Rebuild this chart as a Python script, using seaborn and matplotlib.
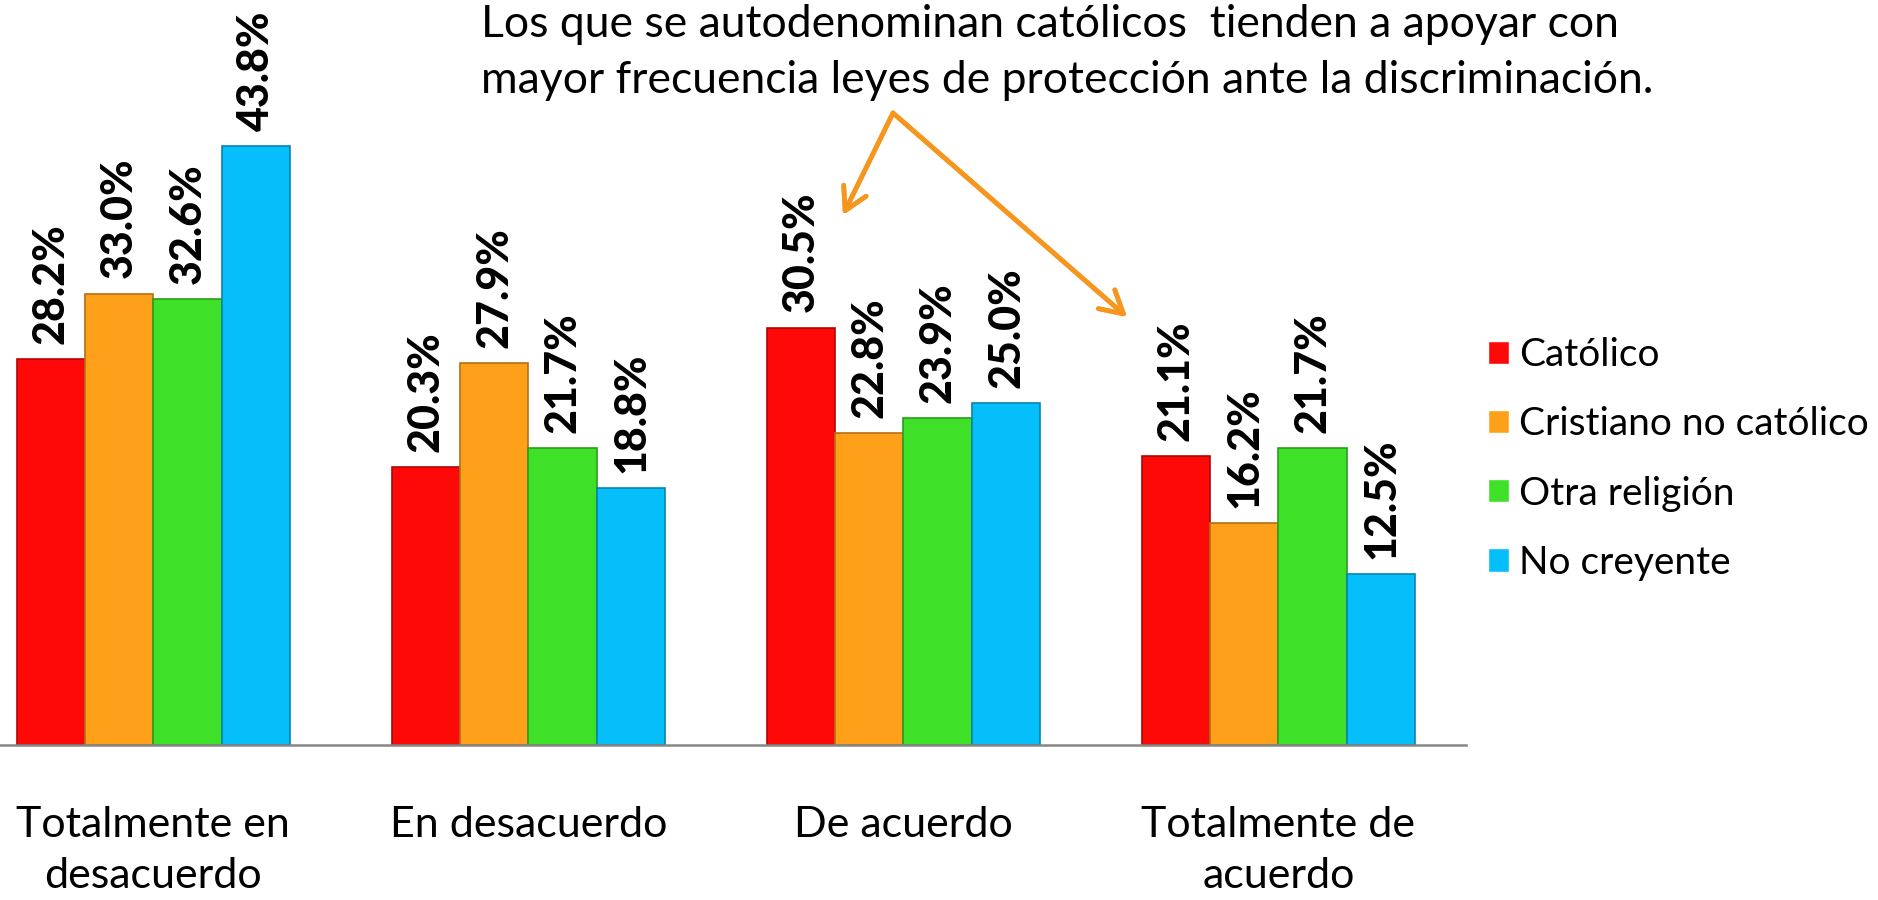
import pandas as pd
import matplotlib.pyplot as plt
import seaborn as sns
from matplotlib.colors import to_rgb

# Datos
respuestas = ["Totalmente en\ndesacuerdo", "En desacuerdo", "De acuerdo", "Totalmente de\nacuerdo"]
religiones = ["Católico", "Cristiano no católico", "Otra religión", "No creyente"]
catolico = [28.2, 20.3, 30.5, 21.1]
cristiano = [33.0, 27.9, 22.8, 16.2]
otra = [32.6, 21.7, 23.9, 21.7]
no_creyente = [43.8, 18.8, 25.0, 12.5]
colores = ["#FF0808", "#FFA01A", "#3EE028", "#06BEFA"]

valores = [catolico, cristiano, otra, no_creyente]
filas = []
for rel, vals in zip(religiones, valores):
    for resp, v in zip(respuestas, vals):
        filas.append({"respuesta": resp, "religion": rel, "pct": v})
df = pd.DataFrame(filas)

sns.set_style("white")
plt.rcParams["font.family"] = ["Lato", "DejaVu Sans"]
plt.rcParams["text.color"] = "black"
plt.rcParams["xtick.labelcolor"] = "black"

fig = plt.figure(figsize=(18.78, 9), dpi=100)
ax = fig.add_axes([0, 155 / 900, 1466 / 1878, 745 / 900])

sns.barplot(
    data=df,
    x="respuesta",
    y="pct",
    hue="religion",
    palette=colores,
    width=0.73,
    saturation=1,
    ax=ax
)

# Bordes oscuros y etiquetas de valor
for cont, col in zip(ax.containers, colores):
    oscuro = tuple(c * 0.7 for c in to_rgb(col))
    for barra in cont:
        barra.set_edgecolor(oscuro)
        barra.set_linewidth(1.2)
    ax.bar_label(
        cont,
        labels=[f"{b.get_height():.1f}%" for b in cont],
        rotation=90,
        padding=11,
        fontsize=31,
        fontweight="black",
        color="black"
    )

ax.set_xlim(-0.409, 3.5)
ax.set_ylim(0, 54.46)
ax.set_xlabel("")
ax.set_ylabel("")
ax.set_yticks([])
for lado in ["top", "right", "left"]:
    ax.spines[lado].set_visible(False)
ax.spines["bottom"].set_color("#868686")
ax.spines["bottom"].set_linewidth(1.8)

ax.set_xticks([0.5, 1.5, 2.5, 3.5], minor=True)
ax.tick_params(axis="x", which="minor", length=9, width=1.3, color="#868686", direction="out")
ax.tick_params(axis="x", which="major", length=0, pad=44, labelsize=31, labelcolor="black")
for t in ax.get_xticklabels():
    t.set_linespacing(1.4)

handles, labels = ax.get_legend_handles_labels()
ley = ax.legend(
    handles, labels,
    loc="center left",
    bbox_to_anchor=(1488 / 1878, 1 - 459 / 900),
    bbox_transform=fig.transFigure,
    frameon=False,
    fontsize=28,
    handlelength=0.55,
    handleheight=0.55,
    handletextpad=0.25,
    labelspacing=0.85,
    borderpad=0,
    borderaxespad=0
)
for t in ley.get_texts():
    t.set_color("black")

fig.text(
    481 / 1878, 1 - 4 / 900,
    "Los que se autodenominan católicos  tienden a apoyar con\n"
    "mayor frecuencia leyes de protección ante la discriminación.",
    fontsize=32, ha="left", va="top", linespacing=1.45, color="black"
)

# Flechas del comentario
naranja = "#F7961E"
for destino in [(843, 900 - 215), (1127, 900 - 317)]:
    fig.add_artist(plt.annotate(
        "",
        xy=destino,
        xytext=(893, 900 - 113),
        xycoords="figure pixels",
        textcoords="figure pixels",
        arrowprops=dict(
            arrowstyle="->,head_length=0.8,head_width=0.45",
            color=naranja,
            lw=3.4,
            mutation_scale=20,
            shrinkA=0,
            shrinkB=0
        )
    ))

fig.savefig("out.png", dpi=100)
